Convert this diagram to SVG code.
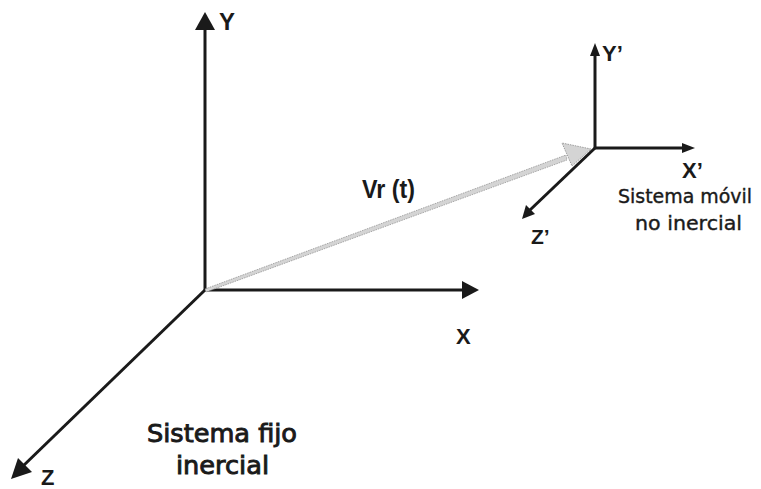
<svg xmlns="http://www.w3.org/2000/svg" width="761" height="489" viewBox="0 0 761 489">
<defs>
<style>
.ax{stroke:#1a1a1a;stroke-width:3;fill:none}
.hd{fill:#1a1a1a}
.lb{font-family:"Liberation Sans",Arial,sans-serif;font-weight:bold;fill:#1a1a1a}
.tx{font-family:"DejaVu Sans","Liberation Sans",sans-serif;fill:#1a1a1a;stroke:#1a1a1a}
</style>
</defs>
<rect width="761" height="489" fill="#ffffff"/>
<g id="connectors">
<!-- fixed frame -->
<line class="ax" x1="205" y1="290" x2="205" y2="26"/>
<polygon class="hd" points="205,12 195,30 215,30"/>
<line class="ax" x1="205" y1="290" x2="466" y2="290"/>
<polygon class="hd" points="479,290 462,281 462,299"/>
<line class="ax" x1="205" y1="290" x2="22" y2="467"/>
<polygon class="hd" points="11,479 18,458 32,472"/>
<!-- moving frame -->
<line class="ax" x1="595" y1="148" x2="595" y2="54"/>
<polygon class="hd" points="595,43 590,56 600,56"/>
<line class="ax" x1="595" y1="148" x2="683" y2="148"/>
<polygon class="hd" points="695,148 682,143 682,153"/>
<line class="ax" x1="595" y1="148" x2="530" y2="210"/>
<polygon class="hd" points="522,219 526,205 535,214"/>
<!-- Vr vector -->
<polygon points="205,289 566,155 567,160 206,292" fill="#d4d4d4" stroke="#8a8a8a" stroke-width="0.7" stroke-dasharray="1.5,1"/>
<polygon points="591,149 562,143 572,166" fill="#d4d4d4" stroke="#8a8a8a" stroke-width="0.8" stroke-dasharray="1.5,1"/>
</g>
<g id="label-Y"><text class="lb" x="219" y="30" font-size="24">Y</text></g>
<g id="label-X"><text class="lb" x="456" y="344" font-size="22">X</text></g>
<g id="label-Z"><text class="lb" x="41" y="485" font-size="22">Z</text></g>
<g id="label-Y2"><text class="lb" x="602" y="61" font-size="22">Y’</text></g>
<g id="label-X2"><text class="lb" x="682" y="178" font-size="22">X’</text></g>
<g id="label-Z2"><text class="lb" x="531" y="244" font-size="21">Z’</text></g>
<g id="label-Vr"><text class="lb" x="362" y="198" font-size="26" textLength="53" lengthAdjust="spacingAndGlyphs">Vr (t)</text></g>
<g id="fixed-system">
<text class="tx" x="147" y="442" font-size="24" stroke-width="0.9" textLength="150" lengthAdjust="spacingAndGlyphs">Sistema fijo</text>
<text class="tx" x="176" y="474" font-size="24" stroke-width="0.9" textLength="93" lengthAdjust="spacingAndGlyphs">inercial</text>
</g>
<g id="moving-system">
<text class="tx" x="618" y="203" font-size="19.5" stroke-width="0.4" textLength="134" lengthAdjust="spacingAndGlyphs">Sistema móvil</text>
<text class="tx" x="635" y="230" font-size="19.5" stroke-width="0.4" textLength="107" lengthAdjust="spacingAndGlyphs">no inercial</text>
</g>
</svg>
